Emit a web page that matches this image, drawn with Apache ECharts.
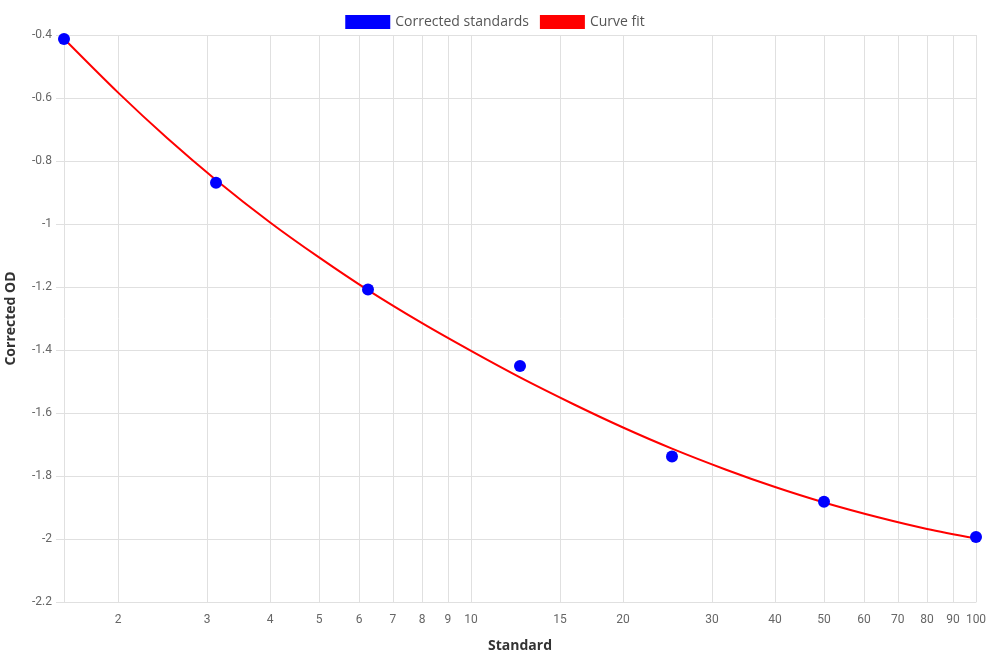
<!DOCTYPE html>
<html>
<head>
<meta charset="utf-8">
<title>Standard curve</title>
<script src="https://cdn.jsdelivr.net/npm/echarts@6/dist/echarts.min.js"></script>
<style>
  html, body { margin: 0; padding: 0; background: #fff; }
  #chart { width: 990px; height: 660px; }
</style>
</head>
<body>
<div id="chart"></div>
<script>
// measured standards
var standards = [1.5625, 3.125, 6.25, 12.5, 25, 50, 100];
var correctedOD = [-0.413, -0.869, -1.208, -1.451, -1.738, -1.882, -1.994];

// curve fit
var fitX = [1.5625, 2, 2.5, 3.125, 4, 5, 6.25, 8, 10, 12.5, 16, 20, 25, 32, 40, 50, 64, 80, 100];
var fitY = [-0.412, -0.583, -0.727, -0.860, -0.995, -1.106, -1.210, -1.315, -1.403, -1.487,
            -1.573, -1.646, -1.713, -1.780, -1.835, -1.884, -1.931, -1.968, -1.998];

// x tick labels (log axis)
var xTicks = [2, 3, 4, 5, 6, 7, 8, 9, 10, 15, 20, 30, 40, 50, 60, 70, 80, 90, 100];

var log10 = function(v){ return Math.log(v) / Math.LN10; };

var pairs = function(xs, ys){
    return xs.map(function(x, i){ return [log10(x), ys[i]]; });
};

var gridColor = '#e0e0e0';
var labelFont = 'Roboto, "Liberation Sans", sans-serif';
var titleFont = '"Open Sans", "Noto Sans", sans-serif';

echarts.init(document.getElementById('chart')).setOption({
    animation: false,
    grid: {
        left: 64,
        right: 14,
        top: 35,
        bottom: 58,
        containLabel: false,
        outerBoundsMode: 'none'
    },
    legend: {
        top: 10,
        left: 'center',
        icon: 'rect',
        itemWidth: 45,
        itemHeight: 14,
        itemGap: 11,
        textStyle: {
            fontFamily: titleFont,
            fontSize: 14,
            color: '#555'
        },
        data: ['Corrected standards', 'Curve fit']
    },
    xAxis: {
        type: 'value',
        min: log10(standards[0]),
        max: log10(100),
        name: 'Standard',
        nameLocation: 'middle',
        nameGap: 37,
        nameTextStyle: {
            fontFamily: titleFont,
            fontWeight: 'bold',
            fontSize: 14,
            color: '#333'
        },
        axisLine: { show: true, lineStyle: { color: gridColor } },
        axisTick: {
            show: false,
            customValues: xTicks.map(log10)
        },
        axisLabel: {
            customValues: xTicks.map(log10),
            formatter: function(v){ return String(Math.round(Math.pow(10, v))); },
            fontFamily: labelFont,
            fontSize: 12,
            color: '#666',
            margin: 12
        },
        splitLine: { show: true, lineStyle: { color: gridColor, width: 1 } }
    },
    yAxis: {
        type: 'value',
        min: -2.2,
        max: -0.4,
        interval: 0.2,
        name: 'Corrected OD',
        nameLocation: 'middle',
        nameGap: 46,
        nameTextStyle: {
            fontFamily: titleFont,
            fontWeight: 'bold',
            fontSize: 14,
            color: '#333'
        },
        axisLine: { show: true, lineStyle: { color: gridColor } },
        axisTick: { show: true, length: 8, lineStyle: { color: gridColor } },
        axisLabel: {
            fontFamily: labelFont,
            fontSize: 12,
            color: '#666',
            margin: 12
        },
        splitLine: { show: true, lineStyle: { color: gridColor, width: 1 } }
    },
    series: [
        {
            name: 'Corrected standards',
            type: 'scatter',
            data: pairs(standards, correctedOD),
            symbol: 'circle',
            symbolSize: 12,
            itemStyle: { color: '#0000ff', opacity: 1 },
            z: 5
        },
        {
            name: 'Curve fit',
            type: 'line',
            data: pairs(fitX, fitY),
            smooth: 0.3,
            showSymbol: false,
            lineStyle: { color: '#ff0000', width: 2 },
            itemStyle: { color: '#ff0000' },
            z: 3
        }
    ]
});
</script>
</body>
</html>
